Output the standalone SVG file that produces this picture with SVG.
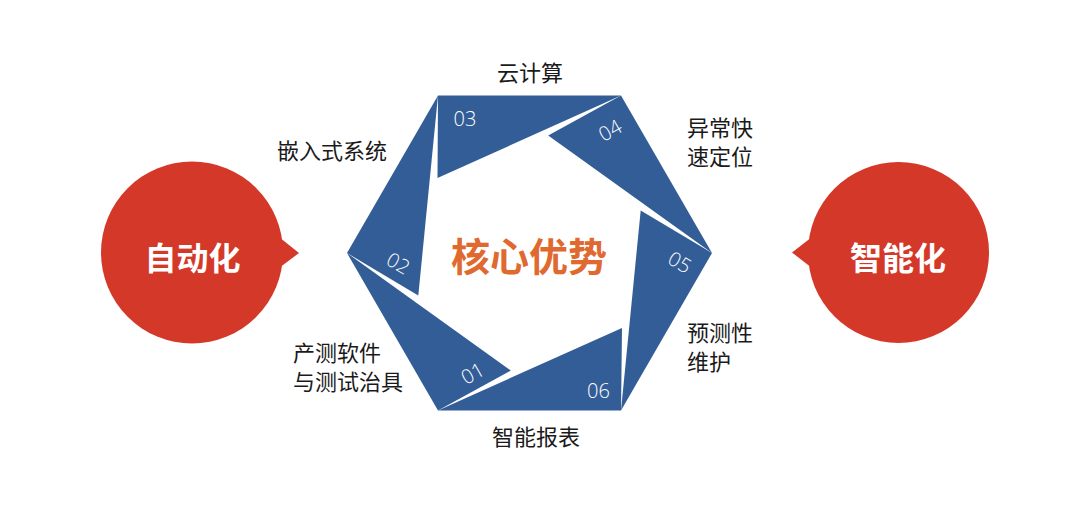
<svg xmlns="http://www.w3.org/2000/svg" width="1080" height="525" viewBox="0 0 1080 525">
  <style>
    .piece { fill: #335D96; }
    .bubble { fill: #D43829; }
    .num { fill: #FFFFFF; font-family: "Open Sans", "Liberation Sans", sans-serif; font-weight: 300; font-size: 20px; text-anchor: middle; dominant-baseline: central; }
    .lbl { fill: #1A1A1A; font-family: "Noto Sans CJK SC", "Noto Sans", sans-serif; font-size: 22px; }
    .big { fill: #FFFFFF; font-family: "Noto Sans CJK SC", "Noto Sans", sans-serif; font-weight: 700; font-size: 32px; text-anchor: middle; }
    .core { fill: #E0692F; font-family: "Noto Sans CJK SC", "Noto Sans", sans-serif; font-weight: 700; font-size: 39px; text-anchor: middle; }
  </style>
  <rect width="1080" height="525" fill="#FFFFFF"/>

  <g id="node-automation">
    <circle class="bubble" cx="192" cy="252.5" r="91"/>
    <polygon class="bubble" points="279,237 299,253 279,268"/>
    <text class="big" x="192.5" y="270">自动化</text>
  </g>

  <g id="node-intelligent">
    <circle class="bubble" cx="898.5" cy="252.5" r="90.5"/>
    <polygon class="bubble" points="812,237 792,252.5 812,268"/>
    <text class="big" x="898" y="270">智能化</text>
  </g>

  <g id="node-hexagon">
    <g id="piece-01">
      <polygon class="piece" points="438,410.5 347,253 510.8,370.6"/>
      <text class="num" transform="translate(472.5,373) rotate(-30)">01</text>
    </g>
    <g id="piece-02">
      <polygon class="piece" points="347,253 438,95.5 418.3,295.6"/>
      <text class="num" transform="translate(398.5,263) rotate(30)">02</text>
    </g>
    <g id="piece-03">
      <polygon class="piece" points="438,95.5 621,95.5 437.5,178"/>
      <text class="num" x="465" y="118.5">03</text>
    </g>
    <g id="piece-04">
      <polygon class="piece" points="621,95.5 712,253 548.2,135.4"/>
      <text class="num" transform="translate(610,130) rotate(-30)">04</text>
    </g>
    <g id="piece-05">
      <polygon class="piece" points="712,253 621,410.5 640.7,210.4"/>
      <text class="num" transform="translate(680,262) rotate(30)">05</text>
    </g>
    <g id="piece-06">
      <polygon class="piece" points="621,410.5 438,410.5 622,328"/>
      <text class="num" x="598.5" y="390.5">06</text>
    </g>
  </g>

  <g id="node-core">
    <text class="core" x="529" y="271">核心优势</text>
  </g>

  <g id="node-labels">
    <text class="lbl" x="497" y="80.5">云计算</text>
    <text class="lbl" x="277" y="159">嵌入式系统</text>
    <text class="lbl" x="687" y="136">异常快</text>
    <text class="lbl" x="687" y="165">速定位</text>
    <text class="lbl" x="293" y="361">产测软件</text>
    <text class="lbl" x="293" y="390">与测试治具</text>
    <text class="lbl" x="687" y="341">预测性</text>
    <text class="lbl" x="687" y="370">维护</text>
    <text class="lbl" x="492" y="445">智能报表</text>
  </g>

  <g id="connectors"></g>
</svg>
